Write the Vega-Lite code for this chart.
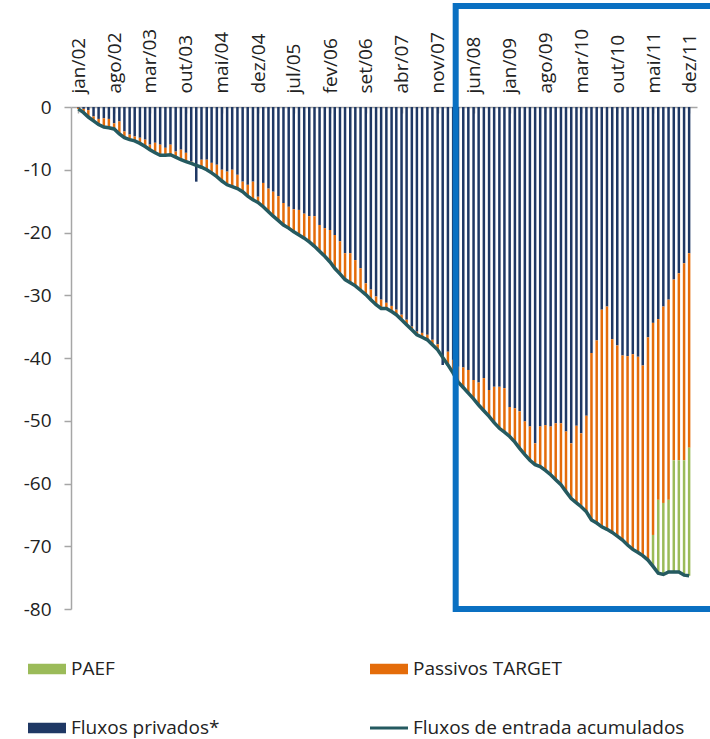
{
  "$schema": "https://vega.github.io/schema/vega-lite/v6.json",
  "description": "Fluxos de entrada acumulados, por componente (mil milhões de euros)",
  "width": 626,
  "height": 502,
  "autosize": "none",
  "padding": {"left": 71, "top": 107, "right": 13, "bottom": 130},
  "config": {
    "view": {"stroke": null},
    "font": "Open Sans",
    "axis": {
      "grid": false,
      "domainColor": "#A6A6A6",
      "domainWidth": 1.5,
      "tickColor": "#A6A6A6",
      "tickWidth": 1.5,
      "labelColor": "#222222",
      "labelFont": "Open Sans",
      "labelFontSize": 19,
      "title": null
    }
  },
  "datasets": {
    "destaque": [{"de": "2008-03-01", "ate": "2012-08-01"}]
  },
  "data": {
    "values": [
      {"d": "2002-01-15", "p": -0.1, "t": -0.3, "c": -0.3},
      {"d": "2002-02-15", "p": -0.3, "t": -0.9, "c": -0.9},
      {"d": "2002-03-15", "p": -0.5, "t": -1.6, "c": -1.6},
      {"d": "2002-04-15", "p": -1.5, "t": -2.2, "c": -2.2},
      {"d": "2002-05-15", "p": -1.9, "t": -2.8, "c": -2.8},
      {"d": "2002-06-15", "p": -1.8, "t": -3.2, "c": -3.2},
      {"d": "2002-07-15", "p": -1.9, "t": -3.3, "c": -3.3},
      {"d": "2002-08-15", "p": -2.6, "t": -3.5, "c": -3.5},
      {"d": "2002-09-15", "p": -2.3, "t": -4.3, "c": -4.3},
      {"d": "2002-10-15", "p": -3.9, "t": -4.9, "c": -4.9},
      {"d": "2002-11-15", "p": -4.4, "t": -5.2, "c": -5.2},
      {"d": "2002-12-15", "p": -4.7, "t": -5.4, "c": -5.4},
      {"d": "2003-01-15", "p": -4.9, "t": -5.8, "c": -5.8},
      {"d": "2003-02-15", "p": -5.2, "t": -6.3, "c": -6.3},
      {"d": "2003-03-15", "p": -6.0, "t": -6.8, "c": -6.8},
      {"d": "2003-04-15", "p": -5.7, "t": -7.3, "c": -7.3},
      {"d": "2003-05-15", "p": -6.0, "t": -7.7, "c": -7.7},
      {"d": "2003-06-15", "p": -6.5, "t": -7.7, "c": -7.7},
      {"d": "2003-07-15", "p": -6.0, "t": -7.6, "c": -7.6},
      {"d": "2003-08-15", "p": -7.1, "t": -8.0, "c": -8.0},
      {"d": "2003-09-15", "p": -6.8, "t": -8.4, "c": -8.4},
      {"d": "2003-10-15", "p": -7.3, "t": -8.7, "c": -8.7},
      {"d": "2003-11-15", "p": -8.7, "t": -9.0, "c": -9.0},
      {"d": "2003-12-15", "p": -11.9, "t": -11.9, "c": -9.3},
      {"d": "2004-01-15", "p": -8.4, "t": -9.6, "c": -9.6},
      {"d": "2004-02-15", "p": -8.4, "t": -10.0, "c": -10.0},
      {"d": "2004-03-15", "p": -8.9, "t": -10.5, "c": -10.5},
      {"d": "2004-04-15", "p": -9.2, "t": -11.1, "c": -11.1},
      {"d": "2004-05-15", "p": -10.0, "t": -11.8, "c": -11.8},
      {"d": "2004-06-15", "p": -10.3, "t": -12.4, "c": -12.4},
      {"d": "2004-07-15", "p": -10.0, "t": -12.7, "c": -12.7},
      {"d": "2004-08-15", "p": -10.8, "t": -13.0, "c": -13.0},
      {"d": "2004-09-15", "p": -11.9, "t": -13.5, "c": -13.5},
      {"d": "2004-10-15", "p": -12.4, "t": -14.2, "c": -14.2},
      {"d": "2004-11-15", "p": -11.9, "t": -14.8, "c": -14.8},
      {"d": "2004-12-15", "p": -14.3, "t": -15.2, "c": -15.2},
      {"d": "2005-01-15", "p": -12.1, "t": -15.9, "c": -15.9},
      {"d": "2005-02-15", "p": -13.0, "t": -16.7, "c": -16.7},
      {"d": "2005-03-15", "p": -13.5, "t": -17.4, "c": -17.4},
      {"d": "2005-04-15", "p": -14.2, "t": -18.1, "c": -18.1},
      {"d": "2005-05-15", "p": -15.3, "t": -18.8, "c": -18.8},
      {"d": "2005-06-15", "p": -15.9, "t": -19.3, "c": -19.3},
      {"d": "2005-07-15", "p": -16.3, "t": -19.9, "c": -19.9},
      {"d": "2005-08-15", "p": -16.4, "t": -20.4, "c": -20.4},
      {"d": "2005-09-15", "p": -17.0, "t": -20.9, "c": -20.9},
      {"d": "2005-10-15", "p": -17.4, "t": -21.5, "c": -21.5},
      {"d": "2005-11-15", "p": -17.4, "t": -22.2, "c": -22.2},
      {"d": "2005-12-15", "p": -18.8, "t": -23.0, "c": -23.0},
      {"d": "2006-01-15", "p": -19.3, "t": -23.8, "c": -23.8},
      {"d": "2006-02-15", "p": -19.6, "t": -24.7, "c": -24.7},
      {"d": "2006-03-15", "p": -20.4, "t": -25.7, "c": -25.7},
      {"d": "2006-04-15", "p": -21.4, "t": -26.6, "c": -26.6},
      {"d": "2006-05-15", "p": -23.3, "t": -27.5, "c": -27.5},
      {"d": "2006-06-15", "p": -23.3, "t": -28.0, "c": -28.0},
      {"d": "2006-07-15", "p": -24.4, "t": -28.5, "c": -28.5},
      {"d": "2006-08-15", "p": -25.7, "t": -29.2, "c": -29.2},
      {"d": "2006-09-15", "p": -28.1, "t": -29.9, "c": -29.9},
      {"d": "2006-10-15", "p": -29.1, "t": -30.7, "c": -30.7},
      {"d": "2006-11-15", "p": -30.2, "t": -31.5, "c": -31.5},
      {"d": "2006-12-15", "p": -30.7, "t": -32.1, "c": -32.1},
      {"d": "2007-01-15", "p": -31.2, "t": -32.1, "c": -32.1},
      {"d": "2007-02-15", "p": -31.7, "t": -32.6, "c": -32.6},
      {"d": "2007-03-15", "p": -32.3, "t": -33.1, "c": -33.1},
      {"d": "2007-04-15", "p": -33.1, "t": -33.9, "c": -33.9},
      {"d": "2007-05-15", "p": -33.9, "t": -34.7, "c": -34.7},
      {"d": "2007-06-15", "p": -35.0, "t": -35.5, "c": -35.5},
      {"d": "2007-07-15", "p": -35.8, "t": -36.3, "c": -36.3},
      {"d": "2007-08-15", "p": -36.0, "t": -36.7, "c": -36.7},
      {"d": "2007-09-15", "p": -36.3, "t": -37.1, "c": -37.1},
      {"d": "2007-10-15", "p": -37.1, "t": -37.9, "c": -37.9},
      {"d": "2007-11-15", "p": -37.8, "t": -38.7, "c": -38.7},
      {"d": "2007-12-15", "p": -41.1, "t": -41.1, "c": -39.9},
      {"d": "2008-01-15", "p": -39.0, "t": -41.1, "c": -41.1},
      {"d": "2008-02-15", "p": -40.3, "t": -42.4, "c": -42.4},
      {"d": "2008-03-15", "p": -41.4, "t": -43.8, "c": -43.8},
      {"d": "2008-04-15", "p": -41.5, "t": -44.7, "c": -44.7},
      {"d": "2008-05-15", "p": -41.9, "t": -45.6, "c": -45.6},
      {"d": "2008-06-15", "p": -43.5, "t": -46.5, "c": -46.5},
      {"d": "2008-07-15", "p": -43.9, "t": -47.5, "c": -47.5},
      {"d": "2008-08-15", "p": -43.2, "t": -48.4, "c": -48.4},
      {"d": "2008-09-15", "p": -45.1, "t": -49.3, "c": -49.3},
      {"d": "2008-10-15", "p": -44.6, "t": -50.3, "c": -50.3},
      {"d": "2008-11-15", "p": -44.6, "t": -51.2, "c": -51.2},
      {"d": "2008-12-15", "p": -44.8, "t": -51.8, "c": -51.8},
      {"d": "2009-01-15", "p": -47.8, "t": -52.5, "c": -52.5},
      {"d": "2009-02-15", "p": -48.0, "t": -53.4, "c": -53.4},
      {"d": "2009-03-15", "p": -48.5, "t": -54.4, "c": -54.4},
      {"d": "2009-04-15", "p": -50.1, "t": -55.4, "c": -55.4},
      {"d": "2009-05-15", "p": -50.9, "t": -56.3, "c": -56.3},
      {"d": "2009-06-15", "p": -53.6, "t": -57.0, "c": -57.0},
      {"d": "2009-07-15", "p": -50.9, "t": -57.3, "c": -57.3},
      {"d": "2009-08-15", "p": -50.7, "t": -57.9, "c": -57.9},
      {"d": "2009-09-15", "p": -50.9, "t": -58.6, "c": -58.6},
      {"d": "2009-10-15", "p": -50.4, "t": -59.4, "c": -59.4},
      {"d": "2009-11-15", "p": -50.4, "t": -60.2, "c": -60.2},
      {"d": "2009-12-15", "p": -51.7, "t": -61.3, "c": -61.3},
      {"d": "2010-01-15", "p": -53.6, "t": -62.4, "c": -62.4},
      {"d": "2010-02-15", "p": -50.8, "t": -63.1, "c": -63.1},
      {"d": "2010-03-15", "p": -52.0, "t": -63.7, "c": -63.7},
      {"d": "2010-04-15", "p": -49.2, "t": -64.5, "c": -64.5},
      {"d": "2010-05-15", "p": -39.2, "t": -65.8, "c": -65.8},
      {"d": "2010-06-15", "p": -37.2, "t": -66.3, "c": -66.3},
      {"d": "2010-07-15", "p": -32.3, "t": -66.9, "c": -66.9},
      {"d": "2010-08-15", "p": -31.8, "t": -67.3, "c": -67.3},
      {"d": "2010-09-15", "p": -37.0, "t": -67.8, "c": -67.8},
      {"d": "2010-10-15", "p": -38.0, "t": -68.4, "c": -68.4},
      {"d": "2010-11-15", "p": -39.6, "t": -69.0, "c": -69.0},
      {"d": "2010-12-15", "p": -39.7, "t": -69.8, "c": -69.8},
      {"d": "2011-01-15", "p": -39.4, "t": -70.5, "c": -70.5},
      {"d": "2011-02-15", "p": -39.8, "t": -71.0, "c": -71.0},
      {"d": "2011-03-15", "p": -41.2, "t": -71.5, "c": -71.5},
      {"d": "2011-04-15", "p": -36.7, "t": -72.2, "c": -72.2},
      {"d": "2011-05-15", "p": -34.4, "t": -68.2, "c": -73.2},
      {"d": "2011-06-15", "p": -33.8, "t": -62.6, "c": -74.3},
      {"d": "2011-07-15", "p": -31.8, "t": -63.1, "c": -74.5},
      {"d": "2011-08-15", "p": -30.7, "t": -62.6, "c": -74.1},
      {"d": "2011-09-15", "p": -27.5, "t": -56.3, "c": -74.1},
      {"d": "2011-10-15", "p": -26.5, "t": -56.3, "c": -74.1},
      {"d": "2011-11-15", "p": -24.9, "t": -56.3, "c": -74.6},
      {"d": "2011-12-15", "p": -23.3, "t": -54.3, "c": -74.7}
    ]
  },
  "encoding": {
    "x": {
      "field": "d",
      "type": "temporal",
      "scale": {
        "domain": [
          {"year": 2002, "month": 1, "date": 1, "utc": true},
          {"year": 2012, "month": 1, "date": 1, "utc": true}
        ],
        "nice": false
      },
      "axis": {
        "orient": "top",
        "labelAngle": -90,
        "tickSize": -6,
        "labelPadding": 20,
        "values": [
          {"year": 2002, "month": 1, "date": 15, "utc": true},
          {"year": 2002, "month": 8, "date": 15, "utc": true},
          {"year": 2003, "month": 3, "date": 15, "utc": true},
          {"year": 2003, "month": 10, "date": 15, "utc": true},
          {"year": 2004, "month": 5, "date": 15, "utc": true},
          {"year": 2004, "month": 12, "date": 15, "utc": true},
          {"year": 2005, "month": 7, "date": 15, "utc": true},
          {"year": 2006, "month": 2, "date": 15, "utc": true},
          {"year": 2006, "month": 9, "date": 15, "utc": true},
          {"year": 2007, "month": 4, "date": 15, "utc": true},
          {"year": 2007, "month": 11, "date": 15, "utc": true},
          {"year": 2008, "month": 6, "date": 15, "utc": true},
          {"year": 2009, "month": 1, "date": 15, "utc": true},
          {"year": 2009, "month": 8, "date": 15, "utc": true},
          {"year": 2010, "month": 3, "date": 15, "utc": true},
          {"year": 2010, "month": 10, "date": 15, "utc": true},
          {"year": 2011, "month": 5, "date": 15, "utc": true},
          {"year": 2011, "month": 12, "date": 15, "utc": true}
        ],
        "labelExpr": "['jan','fev','mar','abr','mai','jun','jul','ago','set','out','nov','dez'][utcmonth(datum.value)] + '/' + utcFormat(datum.value, '%y')"
      }
    }
  },
  "layer": [
    {
      "mark": {"type": "bar", "width": 2.5},
      "encoding": {
        "y": {
          "field": "p",
          "type": "quantitative",
          "scale": {"domain": [-80, 0], "nice": false},
          "axis": {
            "values": [0, -10, -20, -30, -40, -50, -60, -70, -80],
            "labelExpr": "toString(datum.value)",
            "tickSize": 7,
            "labelPadding": 13
          }
        },
        "y2": {"datum": 0},
        "color": {
          "datum": "Fluxos privados*",
          "type": "nominal",
          "scale": {
            "domain": ["PAEF", "Passivos TARGET", "Fluxos privados*", "Fluxos de entrada acumulados"],
            "range": ["#9BBB59", "#E46C0A", "#1F3864", "#255A60"]
          },
          "legend": {
            "title": null,
            "orient": "none",
            "direction": "horizontal",
            "legendX": -43,
            "legendY": 543,
            "columns": 2,
            "gridAlign": "each",
            "columnPadding": 150,
            "rowPadding": 30,
            "symbolType": "M-1,-0.27H1V0.27H-1Z",
            "symbolSize": 1444,
            "symbolStrokeWidth": 0,
            "labelFont": "Open Sans",
            "labelFontSize": 19,
            "labelColor": "#222222",
            "labelOffset": 5,
            "labelLimit": 400,
            "encode": {
              "symbols": {
                "update": {
                  "shape": {"signal": "datum.label === 'Fluxos de entrada acumulados' ? 'M-1,-0.08H1V0.08H-1Z' : 'M-1,-0.27H1V0.27H-1Z'"},
                  "fill": {"scale": "color", "field": "value"},
                  "stroke": {"value": "transparent"},
                  "opacity": {"value": 1}
                }
              }
            }
          }
        }
      }
    },
    {
      "mark": {"type": "bar", "width": 2.5},
      "encoding": {
        "y": {"field": "p", "type": "quantitative"},
        "y2": {"field": "t"},
        "color": {"datum": "Passivos TARGET", "type": "nominal"}
      }
    },
    {
      "transform": [{"filter": "datum.t > datum.c"}],
      "mark": {"type": "bar", "width": 2.5},
      "encoding": {
        "y": {"field": "t", "type": "quantitative"},
        "y2": {"field": "c"},
        "color": {"datum": "PAEF", "type": "nominal"}
      }
    },
    {
      "mark": {"type": "line", "strokeWidth": 3.5},
      "encoding": {
        "y": {"field": "c", "type": "quantitative"},
        "color": {"datum": "Fluxos de entrada acumulados", "type": "nominal"}
      }
    },
    {
      "data": {"name": "destaque"},
      "mark": {"type": "rect", "fill": "transparent", "stroke": "#0A70C2", "strokeWidth": 6, "clip": false},
      "encoding": {
        "x": {"field": "de", "type": "temporal"},
        "x2": {"field": "ate"},
        "y": {"datum": 16.1, "type": "quantitative"},
        "y2": {"datum": -80}
      }
    }
  ]
}
